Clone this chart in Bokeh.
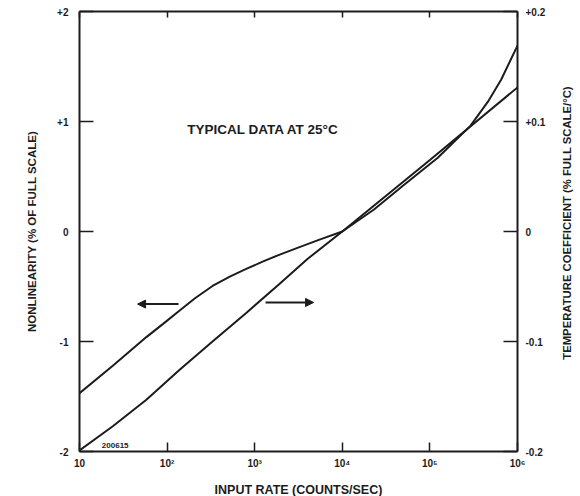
import math
from bokeh.plotting import figure
from bokeh.layouts import row
from bokeh.core.properties import value
from bokeh.models import Range1d, LinearAxis, LogAxis, FixedTicker, Label, Arrow, NormalHead
from bokeh.embed import file_html
from bokeh.resources import INLINE

# ---- data ----
rate_nl = [10, 24, 58, 90, 138, 210, 330, 520, 800, 1250, 1900, 3300, 5600, 10000,
           23000, 50000, 123000, 290000, 460000, 650000, 1000000]
nonlinearity = [-1.47, -1.22, -0.96, -0.84, -0.72, -0.605, -0.495, -0.41, -0.34, -0.272, -0.212,
                -0.14, -0.072, 0.0, 0.20, 0.42, 0.67, 0.96, 1.18, 1.38, 1.69]

rate_tc = [10, 24, 58, 138, 330, 800, 1900, 4000, 10000, 100000, 1000000]
temp_coef = [-0.199, -0.177, -0.153, -0.126, -0.100, -0.074, -0.048, -0.025, 0.0, 0.065, 0.131]

x_ticks = [10, 100, 1000, 10000, 100000, 1000000]
x_tick_labels = ["10", "10²", "10³", "10⁴", "10⁵", "10⁶"]
left_ticks = [-2, -1, 0, 1, 2]
left_tick_labels = ["-2", "-1", "0", "+1", "+2"]
right_ticks = [-0.2, -0.1, 0.0, 0.1, 0.2]
right_tick_labels = ["-0.2", "-0.1", "0", "+0.1", "+0.2"]
right_title = "TEMPERATURE COEFFICIENT (% FULL SCALE/°C)"

FONT = "Liberation Sans"
INK = "#1c1c1c"

p = figure(frame_width=438, frame_height=440,
           min_border_left=79, min_border_top=11, min_border_right=36, min_border_bottom=45,
           x_axis_type="log", x_range=Range1d(10, 1e6), y_range=Range1d(-2, 2),
           output_backend="svg", toolbar_location=None, background_fill_color="white",
           border_fill_color="white")
p.outline_line_color = None
p.grid.visible = False
p.extra_y_ranges = {"tc": Range1d(-0.2, 0.2)}

# bottom axis
xa = p.xaxis[0]
xa.ticker = FixedTicker(ticks=x_ticks)
xa.major_label_overrides = {t: l for t, l in zip(x_ticks, x_tick_labels)}
xa.minor_tick_line_color = None
xa.major_tick_in = 9
xa.major_tick_out = 0
xa.major_label_standoff = 6
xa.axis_label = "INPUT RATE (COUNTS/SEC)"
xa.axis_label_standoff = 11

# left axis
ya = p.yaxis[0]
ya.ticker = FixedTicker(ticks=left_ticks)
ya.major_label_overrides = {t: l for t, l in zip(left_ticks, left_tick_labels)}
ya.minor_tick_line_color = None
ya.major_tick_in = 14
ya.major_tick_out = 0
ya.major_label_standoff = 11
ya.axis_label = "NONLINEARITY (% OF FULL SCALE)"
ya.axis_label_standoff = 16

# right axis
ra = LinearAxis(y_range_name="tc", ticker=FixedTicker(ticks=right_ticks))
ra.major_label_overrides = {t: l for t, l in zip(right_ticks, right_tick_labels)}
ra.minor_tick_line_color = None
ra.major_tick_in = 14
ra.major_tick_out = 0
ra.major_label_standoff = 8
p.add_layout(ra, "right")

# top axis (ticks only)
ta = LogAxis(ticker=FixedTicker(ticks=x_ticks))
ta.major_label_text_font_size = "1px"
ta.major_label_text_color = None
ta.major_label_standoff = 0
ta.minor_tick_line_color = None
ta.major_tick_in = 6
ta.major_tick_out = 0
p.add_layout(ta, "above")

for ax in [xa, ya, ra, ta]:
    ax.axis_line_color = INK
    ax.axis_line_width = 2
    ax.major_tick_line_color = INK
    ax.major_tick_line_width = 1.5
    ax.major_label_text_font = FONT
    ax.major_label_text_font_style = "bold"
    ax.axis_label_text_font = FONT
    ax.axis_label_text_font_style = "bold"
    ax.axis_label_text_color = INK
for ax in [xa, ya, ra]:
    ax.major_label_text_color = INK
    ax.major_label_text_font_size = "10px"
ya.axis_label_text_font_size = "11.5px"
xa.axis_label_text_font_size = "12.5px"

# curves
p.line(rate_nl, nonlinearity, line_color=INK, line_width=2)
p.line(rate_tc, temp_coef, line_color=INK, line_width=2, y_range_name="tc")

# annotations
p.add_layout(Label(x=170, y=0.93, text="TYPICAL DATA AT 25°C", text_font=FONT,
                   text_font_style="bold", text_font_size="13.5px", text_color=INK,
                   text_baseline="middle"))
p.add_layout(Label(x=18, y=-1.945, text="200615", text_font=FONT,
                   text_font_style="bold", text_font_size="8px", text_color=INK,
                   text_baseline="middle"))
p.add_layout(Arrow(x_start=135, y_start=-0.66, x_end=46, y_end=-0.66,
                   line_color=INK, line_width=2,
                   end=NormalHead(size=8, fill_color=INK, line_color=INK)))
p.add_layout(Arrow(x_start=1330, y_start=-0.645, x_end=4700, y_end=-0.645,
                   line_color=INK, line_width=2,
                   end=NormalHead(size=8, fill_color=INK, line_color=INK)))

# narrow strip carrying the right-hand axis title (reads bottom to top)
t = figure(width=27, height=496, min_border=0, x_range=Range1d(-1, 1),
           y_range=Range1d(-256, 240), output_backend="svg", toolbar_location=None,
           background_fill_color="white", border_fill_color="white")
t.axis.visible = False
t.grid.visible = False
t.outline_line_color = None
t.text(x=[0], y=[0], text=[right_title], angle=math.pi / 2,
       text_font=value(FONT), text_font_style=value("bold"), text_font_size=value("11.3px"),
       text_color=INK, text_align="center", text_baseline="middle")

layout = row(p, t, spacing=0)
open("out.html", "w").write(file_html(layout, INLINE))
